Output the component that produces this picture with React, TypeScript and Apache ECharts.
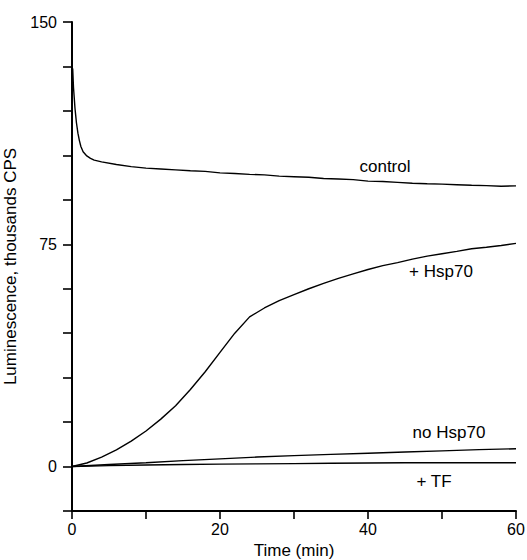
import React, { useEffect, useRef } from "react";
import * as echarts from "echarts";

const controlTimes = [0, 0.1, 0.2, 0.3, 0.4, 0.5, 0.6, 0.8, 1, 1.2, 1.5, 2, 2.5, 3, 4, 6, 8, 10, 12, 14, 16, 18, 20, 22, 24, 26, 28, 30, 32, 34, 36, 38, 40, 42, 44, 46, 48, 50, 52, 54, 56, 58, 60];
const controlValues = [135, 134, 128, 124.5, 121, 118.5, 116, 112.5, 110, 108, 106.2, 104.8, 104, 103.4, 102.8, 101.9, 101.2, 100.7, 100.4, 100.1, 99.8, 99.6, 99.1, 98.9, 98.6, 98.4, 98.0, 97.8, 97.6, 97.2, 97.0, 96.8, 96.3, 96.2, 95.9, 95.6, 95.4, 95.3, 95.1, 94.9, 94.8, 94.6, 94.7];

const hspTimes = [0, 2, 4, 6, 8, 10, 12, 14, 16, 18, 20, 22, 24, 26, 28, 30, 32, 34, 36, 38, 40, 42, 44, 46, 48, 50, 52, 54, 56, 58, 60];
const hspValues = [0, 1.2, 3.2, 5.6, 8.6, 12, 16, 20.5, 26, 32, 38.5, 45, 50.5, 53.5, 56, 58, 60, 61.8, 63.5, 65, 66.5, 67.8, 68.8, 70, 71, 71.8, 72.6, 73.5, 74, 74.6, 75.3];

const slowTimes = [0, 5, 10, 15, 20, 25, 30, 35, 40, 45, 50, 55, 60];
const noHspValues = [0, 0.7, 1.3, 2.0, 2.6, 3.2, 3.7, 4.1, 4.5, 4.9, 5.3, 5.7, 6.0];
const tfValues = [0, 0.3, 0.5, 0.7, 0.8, 0.9, 1.0, 1.1, 1.2, 1.3, 1.3, 1.3, 1.3];

const yMajorLabels = [0, 75, 150];
const xLabels = [0, 20, 40, 60];

const seriesNames = ["control", "+ Hsp70", "no Hsp70", "+ TF"];

const FONT = "Liberation Sans";

function pairs(t: number[], v: number[]) {
  return t.map((x, i) => [x, v[i]]);
}

export default function App() {
  const ref = useRef<HTMLDivElement>(null);
  useEffect(() => {
    if (!ref.current) return;
    const chart = echarts.init(ref.current, undefined, { renderer: "svg" });
    const lineStyle = { color: "#000", width: 1.4 };
    const mk = (name: string, data: number[][]) => ({
      name,
      type: "line",
      data,
      showSymbol: false,
      symbol: "none",
      smooth: false,
      lineStyle,
      silent: true,
    });
    const lbl = (text: string, x: number, y: number) => ({
      type: "text",
      x,
      y,
      style: { text, fill: "#000", font: `17px '${FONT}'`, textAlign: "center", textVerticalAlign: "middle" },
    });
    chart.setOption({
      animation: false,
      backgroundColor: "#fff",
      textStyle: { fontFamily: FONT },
      grid: { left: 72, right: 11, top: 22, bottom: 49, containLabel: false, outerBoundsMode: "none" },
      xAxis: {
        type: "value",
        min: 0,
        max: 60,
        interval: 10,
        name: "Time (min)",
        nameLocation: "middle",
        nameGap: 29,
        nameTextStyle: { color: "#000", fontSize: 17, fontFamily: FONT },
        axisLine: { show: true, onZero: false, lineStyle: { color: "#000", width: 2 } },
        axisTick: { show: true, length: 8, lineStyle: { color: "#000", width: 1.6 } },
        splitLine: { show: false },
        axisLabel: {
          color: "#000",
          fontSize: 16,
          fontFamily: FONT,
          margin: 10,
          formatter: (v: number) => (xLabels.includes(v) ? String(v) : ""),
        },
      },
      yAxis: {
        type: "value",
        min: -15,
        max: 150,
        interval: 15,
        name: "Luminescence, thousands CPS",
        nameLocation: "middle",
        nameGap: 46,
        nameTextStyle: { color: "#000", fontSize: 17, fontFamily: FONT },
        axisLine: { show: true, onZero: false, lineStyle: { color: "#000", width: 2 } },
        axisTick: { show: true, length: 9, lineStyle: { color: "#000", width: 1.6 } },
        splitLine: { show: false },
        axisLabel: {
          color: "#000",
          fontSize: 16,
          fontFamily: FONT,
          margin: 15,
          formatter: (v: number) => (yMajorLabels.includes(v) ? String(v) : ""),
        },
      },
      series: [
        mk(seriesNames[0], pairs(controlTimes, controlValues)),
        mk(seriesNames[1], pairs(hspTimes, hspValues)),
        mk(seriesNames[2], pairs(slowTimes, noHspValues)),
        mk(seriesNames[3], pairs(slowTimes, tfValues)),
      ],
      graphic: [
        lbl(seriesNames[0], 385, 166),
        lbl(seriesNames[1], 441, 271),
        lbl(seriesNames[2], 449, 432),
        lbl(seriesNames[3], 434, 481),
      ],
    });
    return () => chart.dispose();
  }, []);
  return <div ref={ref} style={{ width: 527, height: 560, position: "absolute", left: 0, top: 0 }} />;
}
